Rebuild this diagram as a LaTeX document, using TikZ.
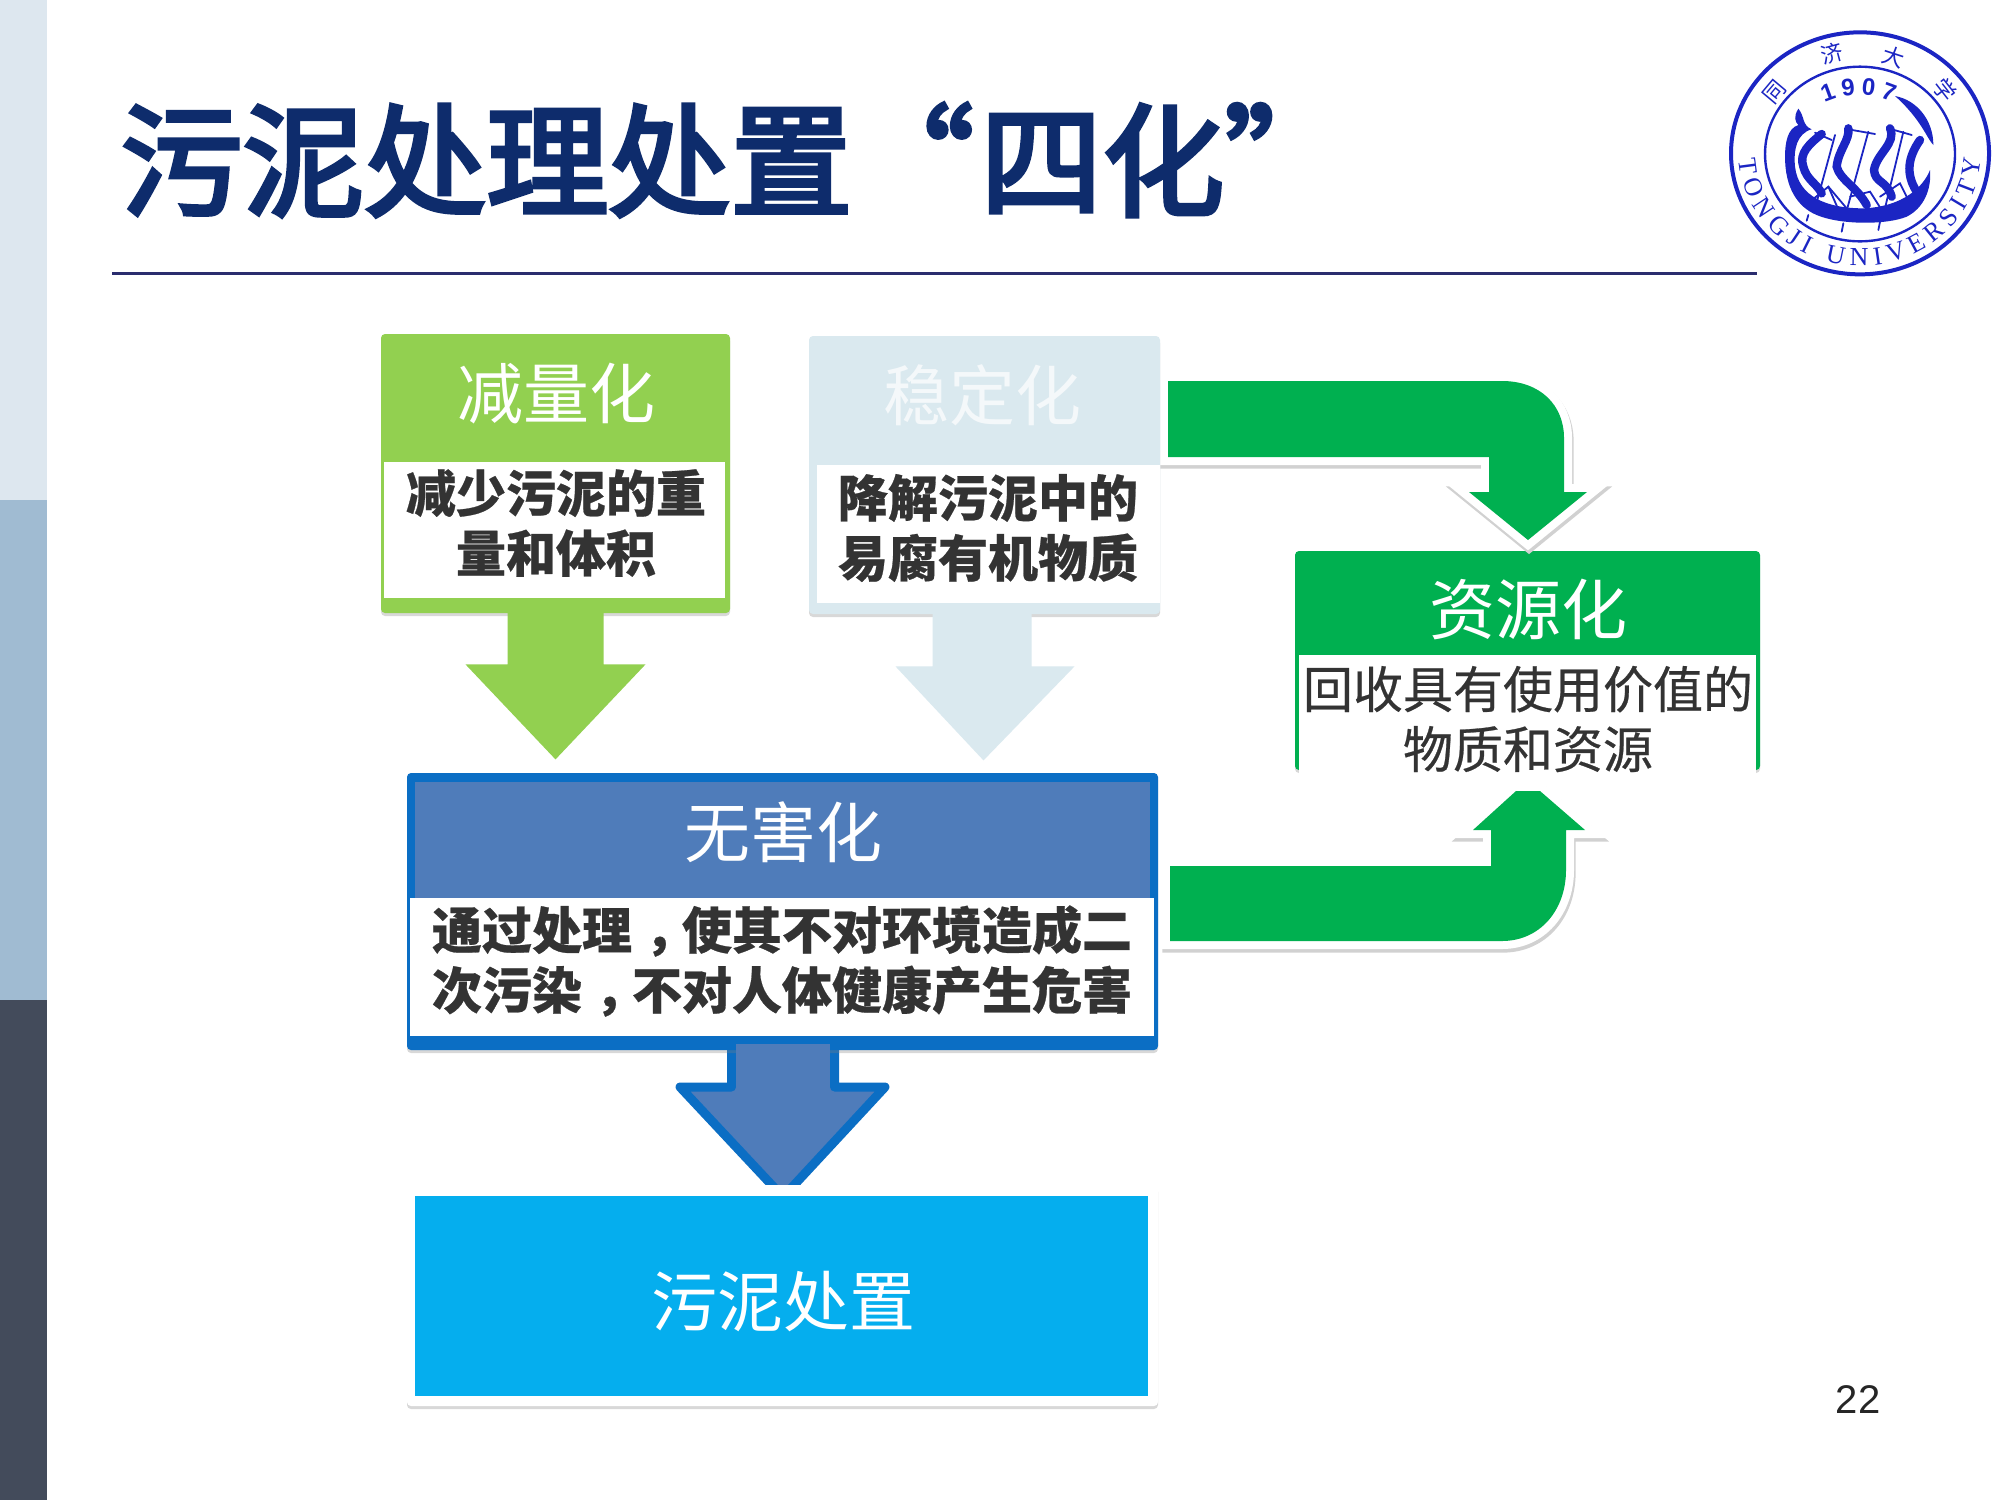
\documentclass[tikz,border=0pt]{standalone}
\usepackage{fontspec}
\usetikzlibrary{fit,shadows,decorations.text,calc}
\setmainfont{Liberation Sans}
\newfontfamily\cjk[BoldFeatures={FakeBold=0.5}]{Noto Sans CJK SC}
\newfontfamily\cjkmed[FakeBold=0.5]{Noto Sans CJK SC}
\newfontfamily\cjktitle[FakeBold=3.5]{Noto Sans CJK SC}
\newfontfamily\lserif{Liberation Serif}
\newcommand{\midcomma}{\hspace{0.25em}，\hspace{-0.25em}}
\definecolor{navy}{HTML}{0E2C6C}
\definecolor{ruleblue}{HTML}{2A2D6E}
\definecolor{sideA}{HTML}{DDE7EF}
\definecolor{sideB}{HTML}{A0BBD2}
\definecolor{sideC}{HTML}{434B5B}
\definecolor{leaf}{HTML}{92D050}
\definecolor{pale}{HTML}{DAE9EF}
\definecolor{grass}{HTML}{00B050}
\definecolor{steel}{HTML}{4F7CBA}
\definecolor{edgeblue}{HTML}{0B6EC4}
\definecolor{sky}{HTML}{05AEEE}
\definecolor{ink}{HTML}{333333}
\definecolor{logoblue}{HTML}{1B25C3}
\tikzset{
  panel/.style={inner sep=0pt,rounded corners=2pt,drop shadow={shadow xshift=0pt,shadow yshift=-1.5pt,opacity=.3}},
  flat/.style={inner sep=0pt},
  headtext/.style={inner sep=0pt,text=white,font=\cjk\fontsize{33pt}{36pt}\selectfont},
  bodytext/.style={inner sep=0pt,align=center,text=ink,font=\cjk\bfseries\fontsize{25pt}{30pt}\selectfont},
  softtext/.style={inner sep=0pt,align=center,text=ink,font=\cjkmed\fontsize{25pt}{30pt}\selectfont},
  halo/.style={line width=8pt,draw=white,line join=miter,miter limit=10},
  halodark/.style={line width=8.6pt,draw=black!18,line join=miter,miter limit=10},
  logochar/.style={inner sep=0pt,text=logoblue,font=\cjk\fontsize{11pt}{12pt}\selectfont},
  hullstroke/.style={draw=logoblue,line width=4.2pt,line cap=round},
  oarstroke/.style={draw=logoblue,line width=.9pt,line cap=round},
}
\newcommand{\upperpath}{(1168,381) -- (1502,381) .. controls (1540,381) and (1564,405) .. (1564,438) -- (1564,492) -- (1587,492) -- (1528,540) -- (1469,492) -- (1489,492) -- (1489,457) -- (1168,457) -- cycle}
\newcommand{\lowerpath}{(1170,866) -- (1491,866) -- (1491,830) -- (1473,830) -- (1516,791) -- (1540,791) -- (1585,830) -- (1566,830) -- (1566,870) .. controls (1566,910) and (1540,941) .. (1502,941) -- (1170,941) -- cycle}
\begin{document}
\begin{tikzpicture}[x=0.5pt,y=-0.5pt]
\useasboundingbox (0,0) rectangle (2000,1500);
\fill[white] (0,0) rectangle (2000,1500);
% side band
\fill[sideA] (0,0) rectangle (47,500);
\fill[sideB] (0,500) rectangle (47,1000);
\fill[sideC] (0,1000) rectangle (47,1500);
% title
\node[anchor=west,inner sep=0pt,text=navy,font=\cjktitle\fontsize{61pt}{66pt}\selectfont] (title) at (120,160) {污泥处理处置“\hspace{3pt}四化”};
\coordinate (ruleL) at (112,273);
\coordinate (ruleR) at (1757,273);
\draw[ruleblue,line width=1.5pt] (ruleL) -- (ruleR);
% resource box
\node[panel,fill=grass,fit={(1295,551)(1760,770)}] (zi) {};
\node[flat,fill=white,fit={(1299,655)(1756,776)}] (zibody) {};
% green bent arrows
\begin{scope}[shift={(1,3)}]
\path[halodark] \upperpath;
\path[halodark] \lowerpath;
\end{scope}
\path[halo,fill=grass] \upperpath;
\path[halo,fill=grass] \lowerpath;
\fill[grass] \upperpath;
\fill[grass] \lowerpath;
\node[headtext] (zihead) at (1528,609) {资源化};
\node[softtext] (zitext) at (1528,719) {回收具有使用价值的\\物质和资源};
% reduce
\node[panel,fill=leaf,fit={(381,334)(730,613)}] (jian) {};
\node[flat,fill=white,fit={(384,462)(725,598)}] (jianbody) {};
\fill[leaf] (jian.south) ++(-48,-2) -- ++(0,53) -- ++(-42,0) -- ++(90,95) -- ++(90,-95) -- ++(-42,0) -- ++(0,-53) -- cycle;
\node[headtext] (jianhead) at (556,394) {减量化};
\node[bodytext] (jiantext) at (556,523) {减少污泥的重\\量和体积};
% stabilise
\node[panel,fill=pale,fit={(809,336)(1160,614)}] (wen) {};
\node[flat,fill=white,fit={(817,465)(1160,603)}] (wenbody) {};
\fill[pale] (wen.south) ++(-52,-2) -- ++(0,54) -- ++(-37,0) -- ++(88,94) -- ++(91,-94) -- ++(-43,0) -- ++(0,-54) -- cycle;
\node[headtext,text=white!70!pale] (wenhead) at (982,395) {稳定化};
\node[bodytext] (wentext) at (988,528) {降解污泥中的\\易腐有机物质};
% harmless arrow, then disposal box
\path[fill=steel,draw=edgeblue,line width=4.5pt,line join=round] (731.5,1040) -- (731.5,1087) -- (680,1087) -- (783,1197) -- (885,1087) -- (834.5,1087) -- (834.5,1040) -- cycle;
\node[panel,fill=edgeblue,fit={(407,773)(1158,1050)}] (hai) {};
\node[flat,fill=steel,fit={(415,782)(1150,898)}] (haifill) {};
\node[flat,fill=white,fit={(410,898)(1154,1036)}] (haibody) {};
\fill[steel] (736,1044) rectangle (830,1090);
\node[headtext] (haihead) at (783,832) {无害化};
\node[bodytext] (haitext) at (782,961) {通过处理\midcomma 使其不对环境造成二\\次污染\midcomma 不对人体健康产生危害};
\node[panel,fill=white,fit={(407,1185)(1158,1406)}] (chu) {};
\node[flat,fill=sky,fit={(415,1196)(1148,1396)}] (chufill) {};
\node[headtext] (chutext) at (783,1301) {污泥处置};
% page number
\node[inner sep=0pt,text=black!85,font=\fontsize{20pt}{22pt}\selectfont] (page) at (1858,1400) {22};
% logo, drawn in a 3x frame anchored at (1700,10)
\begin{scope}[shift={(1700,10)},x=0.16667pt,y=-0.16667pt]
\draw[logoblue,line width=2pt] (480,430) ellipse[x radius=387,y radius=363];
\draw[logoblue,line width=1.2pt] (480,432) ellipse[x radius=285,y radius=262];
\path[decorate,decoration={text along path,text color=logoblue,text align={fit to path},
  text={|\lserif\fontsize{13pt}{15pt}\selectfont|TONGJI UNIVERSITY}}]
  (480,430) ++(177:363 and 338) arc[start angle=177,end angle=3,x radius=363,y radius=338];
\path[decorate,decoration={text along path,text color=logoblue,text align={fit to path},
  text={|\bfseries\fontsize{12pt}{13pt}\selectfont|1907}}]
  (475,495) ++(245:240) arc[start angle=245,end angle=295,radius=240];
\node[logochar,rotate=50] (tong) at (225,245) {同};
\node[logochar,rotate=15] (ji) at (395,130) {济};
\node[logochar,rotate=-18] (da) at (580,140) {大};
\node[logochar,rotate=-52] (xue) at (735,240) {学};
% hull
\fill[logoblue] (295,296) .. controls (280,320) and (285,335) .. (295,345) .. controls (262,355) and (255,400) .. (255,440) .. controls (255,530) and (290,590) .. (350,615) .. controls (420,645) and (560,645) .. (620,620) .. controls (670,595) and (695,540) .. (690,480) .. controls (670,530) and (610,590) .. (490,595) .. controls (380,595) and (295,560) .. (285,470) .. controls (280,420) and (290,370) .. (335,358) .. controls (305,345) and (315,320) .. (295,296) -- cycle;
\fill[logoblue] (585,258) .. controls (650,270) and (700,330) .. (700,405) .. controls (680,385) and (665,330) .. (585,258) -- cycle;
\draw[hullstroke] (660,390) .. controls (625,440) and (615,490) .. (650,545);
% figures
\draw[hullstroke] (365,372) .. controls (330,400) and (295,430) .. (310,470) .. controls (320,510) and (350,520) .. (365,550);
\draw[hullstroke] (445,355) .. controls (450,390) and (415,420) .. (410,470) .. controls (420,510) and (470,530) .. (500,585);
\draw[hullstroke] (570,355) .. controls (590,400) and (530,430) .. (522,480) .. controls (525,520) and (560,510) .. (575,560);
% oars and limbs
\draw[oarstroke] (405,375) -- (345,595);
\draw[oarstroke] (505,365) -- (435,620);
\draw[oarstroke] (610,365) -- (550,615);
\draw[oarstroke] (345,368) -- (395,390);
\draw[oarstroke] (445,358) -- (525,372);
\draw[oarstroke] (565,355) -- (635,375);
\draw[oarstroke] (330,575) -- (385,530) -- (440,595);
\draw[oarstroke] (385,530) -- (420,610);
\draw[oarstroke] (450,560) -- (510,545) -- (545,600);
\draw[oarstroke] (540,560) -- (600,520) -- (625,570);
\draw[oarstroke] (325,615) -- (320,632);
\draw[oarstroke] (430,640) -- (425,665);
\draw[oarstroke] (540,635) -- (535,660);
\end{scope}
\end{tikzpicture}
\end{document}
